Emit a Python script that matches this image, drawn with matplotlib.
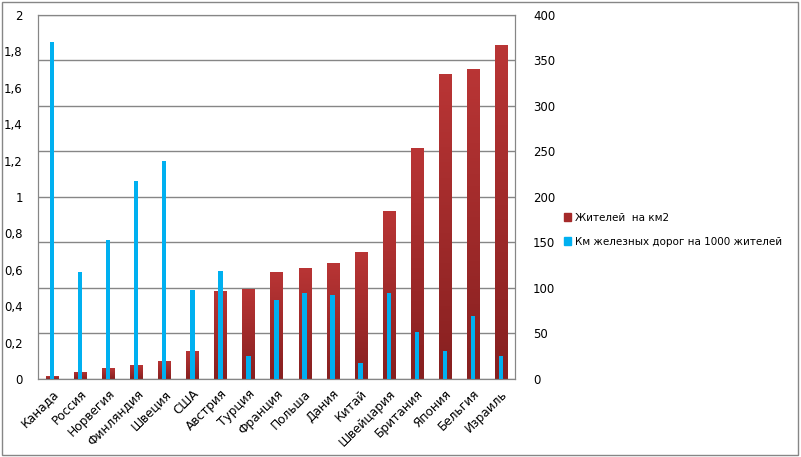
import numpy as np
import matplotlib
matplotlib.use("Agg")
import matplotlib.pyplot as plt
from matplotlib.colors import LinearSegmentedColormap
from matplotlib.ticker import FuncFormatter
from matplotlib.patches import Rectangle

# Data
countries = ['Канада', 'Россия', 'Норвегия', 'Финляндия', 'Швеция', 'США', 'Австрия',
             'Турция', 'Франция', 'Польша', 'Дания', 'Китай', 'Швейцария', 'Британия',
             'Япония', 'Бельгия', 'Израиль']
density = [3, 8, 12, 15, 20, 31, 97, 99, 118, 122, 128, 139, 185, 254, 335, 341, 367]
rail_km = [1.85, 0.59, 0.765, 1.09, 1.2, 0.49, 0.595, 0.125, 0.435, 0.475, 0.46, 0.09,
           0.475, 0.26, 0.155, 0.345, 0.125]

label_red = 'Жителей  на км2'
label_blue = 'Км железных дорог на 1000 жителей'

red = '#a52a2a'
blue = '#00b0f0'
grey = '#868686'

plt.rcParams['font.family'] = ['DejaVu Sans']

fig = plt.figure(figsize=(8.01, 4.57), dpi=100)
ax = fig.add_axes([0.0474, 0.1707, 0.5956, 0.7965])
axb = ax.twinx()
x = np.arange(len(countries))

# red bars (right scale), with a vertical gradient
bars = ax.bar(x, density, width=0.43, color=red, zorder=2)
cmap = LinearSegmentedColormap.from_list('rg', ['#872020', '#b93535'])
grad = np.linspace(0, 1, 100).reshape(-1, 1)
for b in bars:
    x0, y0, w, h = b.get_x(), b.get_y(), b.get_width(), b.get_height()
    im = ax.imshow(grad, cmap=cmap, origin='lower', aspect='auto',
                   extent=[x0, x0 + w, y0, y0 + h], zorder=2.1)
    im.set_clip_path(b)

ax.set_xlim(-0.5, len(countries) - 0.5)
ax.set_ylim(0, 400)
ax.set_yticks(np.arange(0, 401, 50))
ax.grid(axis='y', color=grey, linewidth=1, zorder=0)
ax.set_axisbelow(True)
ax.set_xticks(x)
ax.set_xticklabels(countries, rotation=45, ha='right', rotation_mode='anchor', fontsize=8.7)
ax.tick_params(axis='x', length=0, pad=6)

# blue bars (left scale)
axb.bar(x, rail_km, width=0.16, color=blue, zorder=3)
axb.set_ylim(0, 2)
axb.set_yticks(np.arange(0, 2.01, 0.2))
axb.yaxis.set_major_formatter(FuncFormatter(lambda v, p: ('%g' % round(v, 1)).replace('.', ',')))

# swap sides: density scale on the right, rail scale on the left
ax.yaxis.tick_right()
axb.yaxis.tick_left()
ax.tick_params(axis='y', length=0, pad=13, labelsize=8.5)
axb.tick_params(axis='y', length=0, pad=11, labelsize=8.5)

for a in (ax, axb):
    for s in a.spines.values():
        s.set_color(grey)

handles = [Rectangle((0, 0), 1, 1, color=red), Rectangle((0, 0), 1, 1, color=blue)]
fig.legend(handles, [label_red, label_blue], loc='upper left', bbox_to_anchor=(0.692, 0.555),
           frameon=False, fontsize=7.5, handlelength=0.7, handleheight=0.8,
           handletextpad=0.35, labelspacing=1.35)

# chart border
fig.patches.append(Rectangle((0.002, 0.004), 0.994, 0.992, transform=fig.transFigure,
                             fill=False, edgecolor=grey, linewidth=1))

fig.savefig('out.png', dpi=100)
